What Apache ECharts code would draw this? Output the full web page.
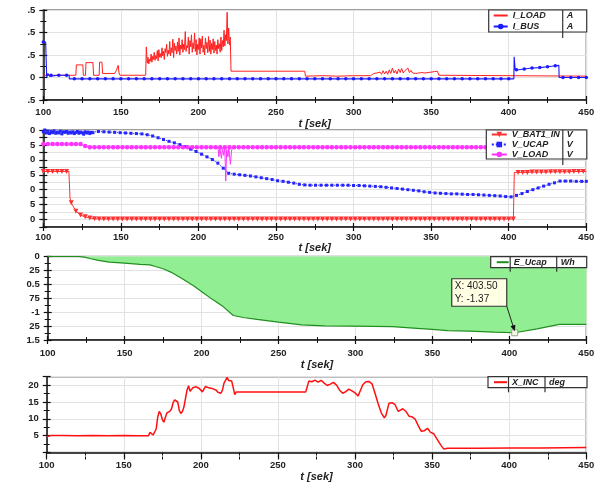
<!DOCTYPE html>
<html><head><meta charset="utf-8">
<script src="https://cdn.jsdelivr.net/npm/echarts@6/dist/echarts.min.js"></script>
<style>html,body{margin:0;padding:0;background:#fff}#c{width:606px;height:483px}</style>
</head><body><div id="c"></div>
<script>
// ================= DATA =================
const xTicks = [100, 150, 200, 250, 300, 350, 400, 450];

// Panel 1 : currents
const yTicks1 = [-0.5, 0, 0.5, 1, 1.5];
const yText1  = ['.5', '0', '.5', '.5', '.5'];
const tILoadA = [100,121,121.3,125.5,125.8,127.2,127.5,132,132.4,136,136.3,137.8,138.2,146,147,148.3,148.8,149.4,166,166.4];
const vILoadA = [0.05,0.05,0.28,0.28,0.05,0.05,0.33,0.33,0.05,0.05,0.34,0.34,0.09,0.09,0.15,0.27,0.1,0.05,0.05,0.68];
// I_LOAD, t = 167 .. 220.5 every 0.5 s
const vILoadNoise1 = [
 0.32,0.45,0.30,0.41,0.36,0.52,0.34,0.47,0.40,0.56,
 0.38,0.49,0.42,0.60,0.37,0.62,0.45,0.53,0.44,0.66,
 0.48,0.58,0.40,0.64,0.55,0.74,0.47,0.61,0.52,0.80,
 0.48,0.66,0.55,0.85,0.44,0.76,0.60,0.70,0.52,0.79,
 0.58,0.88,0.50,0.72,0.63,0.84,0.56,0.74,0.62,1.02,
 0.58,0.71,0.66,0.90,0.52,0.82,0.68,0.95,0.56,0.77,
 0.64,0.99,0.58,0.84,0.50,0.74,0.62,0.88,0.52,0.86,
 0.66,0.92,0.56,0.72,0.50,0.88,0.64,0.78,0.55,0.91,
 0.58,0.83,0.52,0.76,0.62,0.86,0.54,0.80,0.60,0.72,
 0.52,0.84,0.64,0.75,0.56,0.90,0.60,0.82,0.68,1.05,
 0.70,0.95,0.82,1.45,0.75,1.10,0.72,0.90];
const tILoadC = [221,268.5,269,280,290,300,311];
const vILoadC = [0.14,0.14,0.03,0.04,0.03,0.04,0.04];
// I_LOAD, t = 312 .. 355 every 1 s
const vILoadNoise2 = [
 0.06,0.09,0.05,0.10,0.06,0.12,0.07,0.15,0.08,0.14,
 0.07,0.17,0.09,0.21,0.10,0.16,0.08,0.19,0.11,0.20,
 0.10,0.15,0.12,0.21,0.11,0.16,0.10,0.14,0.09,0.13,
 0.10,0.14,0.11,0.13,0.10,0.14,0.11,0.15,0.12,0.16,
 0.13,0.15,0.14,0.05];
const tILoadE = [356,450];
const vILoadE = [0.03,0.03];
// I_BUS, t = 100 .. 450 every 5 s
const vIBus = [0.79,0.05,0.05,0.05,
 -0.03,-0.03,-0.03,-0.03,-0.03,-0.03,-0.03,-0.03,-0.03,-0.03,
 -0.03,-0.03,-0.03,-0.03,-0.03,-0.03,-0.03,-0.03,-0.03,-0.03,
 -0.03,-0.03,-0.03,-0.03,-0.03,-0.03,-0.03,-0.03,-0.03,-0.03,
 -0.03,-0.03,-0.03,-0.03,-0.03,-0.03,-0.03,-0.03,-0.03,-0.03,
 -0.03,-0.03,-0.03,-0.03,-0.03,-0.03,-0.03,-0.03,-0.03,-0.03,
 -0.03,-0.03,-0.03,-0.03,-0.03,-0.03,-0.03,
 0.17,0.19,0.21,0.22,0.24,0.26,
 0.0,0.0,0.0,0.0];
const tIBusX = [101.5,102.2,103,104,116.6,116.8,403.3,403.5,404.2,432.3,432.5];
const vIBusX = [0.79,0.0,0.09,0.03,0.05,-0.03,-0.03,0.46,0.16,0.27,0.0];

// Panel 2 : voltages
const yTicks2 = [0, 5, 10, 15, 20, 25, 30];
const yText2  = ['0', '5', '0', '5', '0', '5', '0'];
// V_BAT1_IN, t = 100 .. 448 every 3 s
const vBat = [16.1,16.1,16.1,16.1,16.1,16.1,
 5.6,2.8,1.5,0.9,0.5,0.3,
 0.2,0.2,0.2,0.2,0.2,0.2,0.2,0.2,0.2,0.2,
 0.2,0.2,0.2,0.2,0.2,0.2,0.2,0.2,0.2,0.2,
 0.2,0.2,0.2,0.2,0.2,0.2,0.2,0.2,0.2,0.2,
 0.2,0.2,0.2,0.2,0.2,0.2,0.2,0.2,0.2,0.2,
 0.2,0.2,0.2,0.2,0.2,0.2,0.2,0.2,0.2,0.2,
 0.2,0.2,0.2,0.2,0.2,0.2,0.2,0.2,0.2,0.2,
 0.2,0.2,0.2,0.2,0.2,0.2,0.2,0.2,0.2,0.2,
 0.2,0.2,0.2,0.2,0.2,0.2,0.2,0.2,0.2,0.2,
 0.2,0.2,0.2,0.2,0.2,0.2,0.2,0.2,0.2,0.2,
 15.8,15.8,15.8,15.9,15.9,15.9,15.9,16.0,16.0,16.0,16.0,16.0,16.1,16.1,16.1];
const tBatX = [116.5,117.2,403.4,403.6,450];
const vBatX = [16.1,7.2,0.2,15.8,16.1];
// V_UCAP, t = 100 .. 132 every 1 s
const vUcapA = [29.4,30.0,29.0,29.6,28.8,29.5,29.1,29.7,28.9,29.3,29.0,29.6,28.7,29.4,29.2,29.5,28.9,
 29.3,29.0,29.4,28.8,29.2,29.5,28.9,29.3,29.1,28.6,29.4,29.0,29.3,28.8,29.2,29.1];
// V_UCAP, t = 135.5 .. 447 every 3.5 s, then 450
const vUcapB = [29.5,29.4,29.3,29.2,29.1,29.0,28.9,28.8,28.7,28.4,
 28.0,27.4,26.8,26.2,25.7,25.1,24.4,23.6,22.8,21.9,
 21.0,20.1,18.9,17.2,15.5,15.2,15.0,14.8,14.6,14.3,
 14.0,13.7,13.4,13.0,12.8,12.5,12.2,11.8,11.6,11.5,
 11.5,11.5,11.5,11.5,11.5,11.5,11.5,11.4,11.4,11.3,
 11.2,11.1,11.0,10.8,10.6,10.4,10.2,10.0,9.8,9.6,
 9.3,9.1,8.9,8.8,8.7,8.6,8.6,8.5,8.4,8.4,
 8.3,8.2,8.1,8.0,7.9,7.7,7.6,8.1,8.7,9.4,
 10.0,10.6,11.2,11.8,12.3,12.9,12.9,12.9,12.8,12.8];
const tUcapEnd = [450];
const vUcapEnd = [12.8];
// V_LOAD, t = 100 .. 448 every 3 s
const vVLoad = [25.3,25.3,25.3,25.3,25.3,25.3,25.3,25.3,25.3,
 24.6,
 24.2,24.2,24.2,24.2,24.2,24.2,24.2,24.2,24.2,24.2,
 24.2,24.2,24.2,24.2,24.2,24.2,24.2,24.2,24.2,24.2,
 24.2,24.2,24.2,24.2,24.2,24.2,24.2,24.2,24.2,24.2,
 24.2,24.2,24.2,24.2,24.2,24.2,24.2,24.2,24.2,24.2,
 24.2,24.2,24.2,24.2,24.2,24.2,24.2,24.2,24.2,24.2,
 24.2,24.2,24.2,24.2,24.2,24.2,24.2,24.2,24.2,24.2,
 24.2,24.2,24.2,24.2,24.2,24.2,24.2,24.2,24.2,24.2,
 24.2,24.2,24.2,24.2,24.2,24.2,24.2,24.2,24.2,24.2,
 24.2,24.2,24.2,24.2,24.2,24.2,24.2,24.2,24.2,24.2,24.2,24.2,
 25.3,25.3,25.3,25.3,25.3,25.3,25.3,25.3,25.3,25.3,25.3,25.3,25.3,25.3,25.3];
const tVLoadX = [212.5,213.2,213.8,214.8,215.5,216.3,217.6,218.2,219,219.6,220.6,221.3,222,403.6,404,450];
const vVLoadX = [24.2,21.0,24.0,20.5,23.8,21.5,12.9,23.5,21.0,24.0,18.5,23.0,24.2,24.2,25.3,25.3];

// Panel 3 : energy
const yTicks3 = [0, -0.25, -0.5, -0.75, -1, -1.25, -1.5];
const yText3  = ['0', '25', '0.5', '75', '-1', '25', '1.5'];
const tEUcap = [100,120,124,128,133,140,150,160,166.5,170,175,180,188,195,201,207,214,220.6,228,236,250,265,280,298,324,340,350,360,374,390,403.5,418,432.5,450];
const vEUcap = [0,0,-0.01,-0.04,-0.07,-0.1,-0.12,-0.14,-0.15,-0.18,-0.22,-0.28,-0.41,-0.53,-0.65,-0.77,-0.9,-1.06,-1.1,-1.13,-1.18,-1.23,-1.245,-1.25,-1.26,-1.29,-1.31,-1.33,-1.34,-1.36,-1.37,-1.3,-1.22,-1.22];
const annotX = 403.5;
const annotY = -1.37;

// Panel 4 : inclination
const yTicks4 = [5, 10, 15, 20];
const yText4  = ['5', '10', '15', '20'];
const tXInc = [100,101,103,110,120,130,140,150,160,166,
 167,168,169,170,171,172,173,174,175,176,
 177,178,180,181,182,183,184,185,186,187,
 188,189,190,191,192,193,194,195,196,197,
 198,199,200,201,202,203,204,205,206,208,
 209,210,211,212,213,214,215,216,217,218,
 219,220,221,222,223,224,268,269,270,271,
 272,274,276,278,280,282,284,286,288,290,
 292,294,296,298,300,302,303,305,307,308,
 309,311,313,315,317,319,320,322,324,326,
 328,329,331,333,335,337,339,341,343,345,
 347,349,351,352,354,356,357.5,360,380,400,
 420,450];
const vXInc = [4.7,4.9,5.1,5.1,5.0,5.1,5.0,5.1,5.0,5.0,
 6.0,6.3,5.2,4.9,7.0,10.5,12.2,11.5,9.8,9.0,
 10.5,11.8,12.3,13.0,14.8,15.6,15.8,15.0,12.5,11.6,
 12.2,13.5,16.0,18.5,19.8,18.2,18.5,19.3,19.8,19.5,
 19.2,19.0,18.6,18.0,18.2,19.6,20.0,19.2,19.5,18.9,
 18.4,18.5,17.9,18.2,17.6,18.5,20.6,21.4,22.3,21.4,
 21.8,21.2,21.3,17.2,18.0,18.0,18.0,19.5,21.2,21.6,
 21.0,21.5,20.9,21.4,20.6,19.9,20.3,20.8,20.0,18.5,
 17.6,18.1,18.8,18.3,17.7,16.8,17.2,20.1,21.0,20.6,
 21.1,20.4,17.5,14.5,11.8,10.3,11.0,14.6,14.8,14.2,
 12.2,12.6,13.0,12.2,10.8,10.6,9.9,8.0,6.3,6.5,
 7.2,6.0,5.6,4.9,3.4,2.0,1.1,1.3,1.3,1.4,
 1.4,1.5];

// ================= HELPERS =================
function steps(a, b, s) { const r = []; for (let k = 0; a + k * s <= b + 1e-9; k++) r.push(Math.round((a + k * s) * 1000) / 1000); return r; }
function pairs(ts, vs) { return ts.map((t, i) => [t, vs[i]]); }
function merged(...lists) { return [].concat(...lists).sort((p, q) => p[0] - q[0]); }
function every(step, size) {
  return function (val) { const k = (val[0] - 100) / step; return Math.abs(k - Math.round(k)) < 1e-6 ? size : 0; };
}
function tickFmt(ticks, text) {
  return function (v) { const i = ticks.findIndex(t => Math.abs(t - v) < 1e-6); return i < 0 ? '' : text[i]; };
}

const FONT = 'Liberation Sans, Arial, Helvetica, sans-serif';
const W = 606;
const grids = [
  { left: 43.3, right: 19.7, top: 10,    height: 90 },
  { left: 43.3, right: 19.7, top: 130,   height: 97 },
  { left: 47.7, right: 19.7, top: 256.5, height: 83.5 },
  { left: 46.7, right: 19.7, top: 376.7, height: 82.8 }
];
const yDefs = [
  { min: -0.5, max: 1.5, interval: 0.5, minor: 2, fmt: tickFmt(yTicks1, yText1) },
  { min: -2.5, max: 30, interval: 2.5, minor: 0, fmt: tickFmt(yTicks2, yText2) },
  { min: -1.5, max: 0, interval: 0.25, minor: 2, fmt: tickFmt(yTicks3, yText3) },
  { min: 0, max: 22.5, interval: 5, minor: 2, fmt: tickFmt(yTicks4, yText4) }
];
const labelMargin = [7.2, 5, 8.5, 7.5];
const nameGap = [11.5, 8.2, 15.5, 13];

const AX = '#111';
const xAxis = [], yAxis = [];
grids.forEach((g, i) => {
  const gw = W - g.left - g.right;
  const tick = { show: true, length: 4, lineStyle: { color: AX, width: 1.2 } };
  const xMinor = { show: true, splitNumber: 2, length: 3, lineStyle: { color: AX, width: 1 } };
  xAxis.push({
    gridIndex: i, type: 'value', min: 100, max: 450, interval: 50, position: 'bottom',
    axisLine: { onZero: false, lineStyle: { color: AX, width: 1.5 } },
    axisTick: tick, minorTick: xMinor,
    axisLabel: { margin: labelMargin[i], color: '#222', fontSize: 9.5, fontWeight: 'bold', fontFamily: FONT,
                 formatter: v => (xTicks.indexOf(v) >= 0 ? String(v) : '') },
    splitLine: { show: true, lineStyle: { color: '#e2e2e2', width: 1 } },
    name: 't [sek]', nameLocation: 'middle', nameGap: nameGap[i],
    nameTextStyle: { fontSize: 11, fontWeight: 'bold', fontStyle: 'italic', color: '#222', fontFamily: FONT }
  });
  xAxis.push({
    gridIndex: i, type: 'value', min: 100, max: 450, interval: 50, position: 'top', offset: -g.height,
    axisLine: { show: false, onZero: false }, axisTick: tick, minorTick: xMinor,
    axisLabel: { show: false }, splitLine: { show: false }
  });
  const d = yDefs[i];
  const yMinor = { show: d.minor > 0, splitNumber: d.minor || 2, length: 3, lineStyle: { color: AX, width: 1 } };
  yAxis.push({
    gridIndex: i, type: 'value', min: d.min, max: d.max, interval: d.interval, position: 'left',
    axisLine: { onZero: false, lineStyle: { color: AX, width: 1.5 } },
    axisTick: tick, minorTick: yMinor,
    axisLabel: { margin: 8, color: '#222', fontSize: 9.5, fontWeight: 'bold', fontFamily: FONT, formatter: d.fmt },
    splitLine: { show: true, lineStyle: { color: '#e2e2e2', width: 1 } }
  });
  yAxis.push({
    gridIndex: i, type: 'value', min: d.min, max: d.max, interval: d.interval, position: 'right', offset: -gw,
    axisLine: { show: false, onZero: false }, axisTick: tick, minorTick: yMinor,
    axisLabel: { show: false }, splitLine: { show: false }
  });
});

// ---------- legends ----------
const lineOnly = ['I_LOAD', 'E_Ucap', 'X_INC'];
const legDefs = [
  { left: 488.7, top: 10,    names: ['I_LOAD', 'I_BUS'], units: ['A', 'A'], padL: 4, padR: 2, padV: 1, iw: 14, nW: 54, uW: 18, lh: 12, gap: 2, div1: false },
  { left: 486.3, top: 130,   names: ['V_BAT1_IN', 'V_UCAP', 'V_LOAD'], units: ['V', 'V', 'V'], padL: 4.5, padR: 3, padV: 0, iw: 15, nW: 55, uW: 17, lh: 11, gap: 1, div1: false },
  { left: 490.7, top: 256.7, names: ['E_Ucap'], units: ['Wh'], padL: 5, padR: 2, padV: 1, iw: 12, nW: 47, uW: 24, lh: 13, gap: 0, div1: true },
  { left: 488,   top: 376.7, names: ['X_INC'], units: ['deg'], padL: 5, padR: 2, padV: 1, iw: 13, nW: 37, uW: 36, lh: 13.6, gap: 0, div1: true }
];
const legend = [], legGraphics = [];
legDefs.forEach(L => {
  const rich = {
    n: { width: L.nW, fontSize: 9, fontStyle: 'italic', fontWeight: 'bold', color: '#222', lineHeight: L.lh, fontFamily: FONT },
    u: { width: L.uW, fontSize: 9, fontStyle: 'italic', fontWeight: 'bold', color: '#222', lineHeight: L.lh, fontFamily: FONT }
  };
  legend.push({
    left: L.left, top: L.top, orient: 'vertical', selectedMode: false,
    data: L.names.map(n => (lineOnly.indexOf(n) >= 0 ? { name: n, itemStyle: { opacity: 0 } } : { name: n })),
    padding: [L.padV, L.padR, L.padV, L.padL], itemWidth: L.iw, itemHeight: Math.min(7, L.lh), itemGap: L.gap,
    borderColor: '#333', borderWidth: 1.2, backgroundColor: '#fff', z: 10,
    textStyle: { rich: rich },
    formatter: name => '{n|' + name + '}{u|' + L.units[L.names.indexOf(name)] + '}'
  });
  const h = L.names.length * L.lh + (L.names.length - 1) * L.gap + 2 * L.padV;
  const x2 = L.left + L.padL + L.iw + 5 + L.nW - 3;
  legGraphics.push({ type: 'line', z: 20, shape: { x1: x2, y1: L.top, x2: x2, y2: L.top + h }, style: { stroke: '#333', lineWidth: 1.2 } });
  if (L.div1) {
    const x1 = L.left + L.padL + L.iw + 2.5;
    legGraphics.push({ type: 'line', z: 20, shape: { x1: x1, y1: L.top, x2: x1, y2: L.top + h }, style: { stroke: '#333', lineWidth: 1.2 } });
  }
});

// ---------- series ----------
const series = [
  { type: 'line', name: 'I_LOAD', xAxisIndex: 0, yAxisIndex: 0, symbol: 'none',
    data: merged(pairs(tILoadA, vILoadA), pairs(steps(167, 220.5, 0.5), vILoadNoise1), pairs(tILoadC, vILoadC),
                 pairs(steps(312, 355, 1), vILoadNoise2), pairs(tILoadE, vILoadE)),
    lineStyle: { color: '#ff2020', width: 1 }, itemStyle: { color: '#ff5555' } },
  { type: 'line', name: 'I_BUS', xAxisIndex: 0, yAxisIndex: 0, symbol: 'circle', symbolSize: every(5, 3.5), showAllSymbol: true,
    data: merged(pairs(steps(100, 450, 5), vIBus), pairs(tIBusX, vIBusX)),
    lineStyle: { color: '#1a1aff', width: 1.1 }, itemStyle: { color: '#1a1aff' } },
  { type: 'line', name: 'V_BAT1_IN', xAxisIndex: 2, yAxisIndex: 2, symbol: 'triangle', symbolRotate: 180, symbolSize: every(3, 5), showAllSymbol: true,
    data: merged(pairs(steps(100, 448, 3), vBat), pairs(tBatX, vBatX)),
    lineStyle: { color: '#ff3030', width: 1 }, itemStyle: { color: '#ff3030' } },
  { type: 'line', name: 'V_UCAP', xAxisIndex: 2, yAxisIndex: 2, symbol: 'rect', symbolSize: 3, showAllSymbol: true,
    data: merged(pairs(steps(100, 132, 1), vUcapA), pairs(steps(135.5, 447, 3.5), vUcapB), pairs(tUcapEnd, vUcapEnd)),
    lineStyle: { color: '#2424ff', width: 1, type: 'dotted' }, itemStyle: { color: '#2424ff' } },
  { type: 'line', name: 'V_LOAD', xAxisIndex: 2, yAxisIndex: 2, symbol: 'circle', symbolSize: every(3, 4.5), showAllSymbol: true,
    data: merged(pairs(steps(100, 448, 3), vVLoad), pairs(tVLoadX, vVLoadX)),
    lineStyle: { color: '#ff33ff', width: 1 }, itemStyle: { color: '#ff33ff' } },
  { type: 'line', name: 'E_Ucap', xAxisIndex: 4, yAxisIndex: 4, symbol: 'none',
    data: pairs(tEUcap, vEUcap),
    lineStyle: { color: '#1f8f1f', width: 1.2 }, itemStyle: { color: '#1f8f1f' },
    areaStyle: { color: '#92ee92', opacity: 1 } },
  { type: 'line', name: 'X_INC', xAxisIndex: 6, yAxisIndex: 6, symbol: 'none',
    data: pairs(tXInc, vXInc),
    lineStyle: { color: '#ff1010', width: 1.5 }, itemStyle: { color: '#ff1010' } }
];

const chart = echarts.init(document.getElementById('c'), null, { renderer: 'canvas' });
chart.setOption({
  animation: false,
  backgroundColor: '#fff',
  textStyle: { fontFamily: FONT },
  grid: grids.map(g => Object.assign({ show: true, borderColor: '#808080', borderWidth: 1.5, backgroundColor: 'transparent' }, g)),
  xAxis: xAxis, yAxis: yAxis, legend: legend, series: series,
  graphic: legGraphics
});

// ---------- data-cursor annotation on E_Ucap ----------
const p = chart.convertToPixel({ seriesIndex: 5 }, [annotX, annotY]);
const px = p[0], py = p[1];
const bx = px - 63, by = py - 54, bw = 55, bh = 27.5;
const ax1 = px - 8, ay1 = py - 26.5, ax2 = px, ay2 = py - 1.5;
const ang = Math.atan2(ay2 - ay1, ax2 - ax1), hl = 6, hw = 2.6;
const head = [
  [ax2, ay2],
  [ax2 - hl * Math.cos(ang) + hw * Math.sin(ang), ay2 - hl * Math.sin(ang) - hw * Math.cos(ang)],
  [ax2 - hl * Math.cos(ang) - hw * Math.sin(ang), ay2 - hl * Math.sin(ang) + hw * Math.cos(ang)]
];
chart.setOption({
  graphic: legGraphics.concat([
    { type: 'rect', z: 30, shape: { x: px - 3, y: py - 3, width: 6, height: 6 }, style: { fill: '#f3fbe8', stroke: '#9aa88a', lineWidth: 1 } },
    { type: 'line', z: 30, shape: { x1: ax1, y1: ay1, x2: ax2 - 4 * Math.cos(ang), y2: ay2 - 4 * Math.sin(ang) }, style: { stroke: '#222', lineWidth: 1 } },
    { type: 'polygon', z: 30, shape: { points: head }, style: { fill: '#111' } },
    { type: 'rect', z: 30, shape: { x: bx, y: by, width: bw, height: bh }, style: { fill: '#ffffe3', stroke: '#333', lineWidth: 1.2 } },
    { type: 'text', z: 31, x: bx + 3, y: by + 7, style: { text: 'X: ' + annotX.toFixed(2), fontSize: 10, fontFamily: FONT, fill: '#222', verticalAlign: 'middle' } },
    { type: 'text', z: 31, x: bx + 3, y: by + 20, style: { text: 'Y: ' + annotY.toFixed(2), fontSize: 10, fontFamily: FONT, fill: '#222', verticalAlign: 'middle' } }
  ])
});
</script>
</body></html>
